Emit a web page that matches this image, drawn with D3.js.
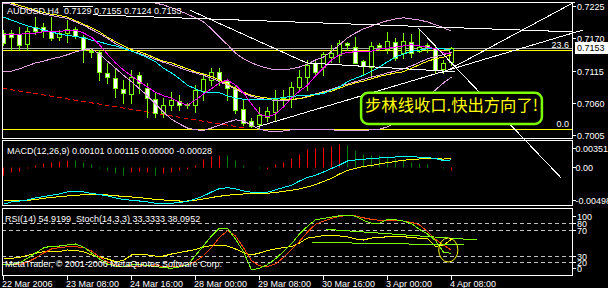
<!DOCTYPE html>
<html>
<head>
<meta charset="utf-8">
<script src="https://cdn.jsdelivr.net/npm/d3@7"></script>
<style>
body { margin: 0; background: #000; }
svg { display: block; }
text { font-family: "Liberation Sans", Arial, sans-serif; font-size: 9px; fill: #fff; white-space: pre; }
</style>
</head>
<body>
<svg id="chart" width="608" height="288"></svg>
<script>
// AUDUSD H4, 57 bars (22 Mar 2006 - 4 Apr 2006)
var openP  = [0.7179,0.7179,0.7177,0.7160,0.7189,0.7189,0.7182,0.7172,0.7179,0.7186,0.7172,0.7148,0.7147,0.7111,0.7102,0.7084,0.7075,0.7107,0.7085,0.7067,0.7043,0.7056,0.7063,0.7056,0.7056,0.7080,0.7099,0.7113,0.7097,0.7084,0.7049,0.7029,0.7024,0.7036,0.7044,0.7065,0.7067,0.7087,0.7104,0.7128,0.7121,0.7138,0.7142,0.7162,0.7155,0.7131,0.7121,0.7159,0.7152,0.7164,0.7145,0.7164,0.7148,0.7159,0.7153,0.7118,0.7129];
var highP  = [0.7184,0.7184,0.7189,0.7189,0.7206,0.7196,0.7206,0.7184,0.7201,0.7189,0.7176,0.7153,0.7150,0.7128,0.7118,0.7099,0.7116,0.7113,0.7094,0.7077,0.7068,0.7078,0.7073,0.7060,0.7090,0.7111,0.7119,0.7119,0.7099,0.7090,0.7065,0.7034,0.7053,0.7053,0.7082,0.7082,0.7095,0.7116,0.7133,0.7133,0.7147,0.7159,0.7167,0.7164,0.7172,0.7133,0.7164,0.7162,0.7181,0.7171,0.7179,0.7177,0.7184,0.7162,0.7157,0.7133,0.7155];
var lowP   = [0.7159,0.7150,0.7150,0.7150,0.7177,0.7172,0.7167,0.7167,0.7164,0.7171,0.7130,0.7138,0.7099,0.7094,0.7070,0.7060,0.7060,0.7077,0.7036,0.7036,0.7036,0.7048,0.7048,0.7051,0.7044,0.7065,0.7090,0.7090,0.7065,0.7043,0.7022,0.7019,0.7017,0.7029,0.7031,0.7056,0.7053,0.7082,0.7082,0.7107,0.7107,0.7130,0.7130,0.7150,0.7128,0.7107,0.7107,0.7150,0.7145,0.7133,0.7136,0.7138,0.7147,0.7147,0.7111,0.7111,0.7124];
var closeP = [0.7162,0.7172,0.7159,0.7182,0.7182,0.7182,0.7171,0.7179,0.7186,0.7174,0.7150,0.7147,0.7113,0.7104,0.7085,0.7077,0.7104,0.7094,0.7068,0.7043,0.7056,0.7065,0.7056,0.7058,0.7082,0.7101,0.7113,0.7099,0.7085,0.7048,0.7026,0.7020,0.7039,0.7046,0.7067,0.7068,0.7087,0.7104,0.7124,0.7113,0.7143,0.7145,0.7162,0.7159,0.7128,0.7123,0.7157,0.7155,0.7165,0.7136,0.7165,0.7145,0.7155,0.7155,0.7116,0.7128,0.7153];

// moving averages and bollinger bands on the price chart
var maYellow = [0.7234,0.7230,0.7226,0.7222,0.7218,0.7214,0.7211,0.7209,0.7206,0.7200,0.7194,0.7188,0.7181,0.7172,0.7164,0.7157,0.7151,0.7147,0.7142,0.7136,0.7131,0.7128,0.7123,0.7118,0.7113,0.7109,0.7105,0.7099,0.7092,0.7085,0.7078,0.7073,0.7070,0.7068,0.7067,0.7066,0.7066,0.7067,0.7070,0.7074,0.7078,0.7080,0.7085,0.7090,0.7094,0.7097,0.7101,0.7105,0.7108,0.7111,0.7113,0.7119,0.7125,0.7131,0.7135,0.7138,0.7142];
var maCyan = [0.7206,0.7201,0.7196,0.7191,0.7188,0.7184,0.7181,0.7177,0.7175,0.7173,0.7171,0.7167,0.7164,0.7160,0.7157,0.7153,0.7148,0.7143,0.7137,0.7130,0.7119,0.7111,0.7101,0.7090,0.7084,0.7078,0.7078,0.7077,0.7072,0.7068,0.7066,0.7065,0.7065,0.7066,0.7067,0.7069,0.7071,0.7072,0.7073,0.7074,0.7076,0.7082,0.7087,0.7096,0.7102,0.7107,0.7114,0.7121,0.7130,0.7138,0.7143,0.7148,0.7150,0.7152,0.7153,0.7152,0.7150];
var maMagenta = [0.7177,0.7177,0.7177,0.7178,0.7179,0.7181,0.7182,0.7182,0.7183,0.7184,0.7179,0.7172,0.7159,0.7143,0.7128,0.7116,0.7106,0.7096,0.7087,0.7078,0.7072,0.7068,0.7061,0.7056,0.7065,0.7075,0.7084,0.7094,0.7099,0.7090,0.7077,0.7058,0.7041,0.7036,0.7041,0.7053,0.7068,0.7080,0.7090,0.7106,0.7119,0.7133,0.7142,0.7146,0.7147,0.7147,0.7148,0.7152,0.7153,0.7155,0.7157,0.7159,0.7157,0.7155,0.7152,0.7145,0.7143];
var bandMid = [0.7230,0.7228,0.7223,0.7219,0.7216,0.7211,0.7209,0.7206,0.7204,0.7198,0.7192,0.7185,0.7178,0.7170,0.7161,0.7154,0.7148,0.7144,0.7139,0.7134,0.7129,0.7125,0.7120,0.7115,0.7111,0.7107,0.7102,0.7096,0.7090,0.7083,0.7076,0.7071,0.7067,0.7066,0.7064,0.7064,0.7065,0.7067,0.7071,0.7075,0.7079,0.7083,0.7088,0.7092,0.7096,0.7100,0.7104,0.7107,0.7111,0.7114,0.7118,0.7123,0.7129,0.7135,0.7139,0.7142,0.7146];
var bandUpper = [0.7338,0.7334,0.7329,0.7321,0.7312,0.7304,0.7295,0.7287,0.7280,0.7273,0.7266,0.7259,0.7254,0.7251,0.7247,0.7244,0.7240,0.7237,0.7234,0.7230,0.7227,0.7222,0.7217,0.7211,0.7205,0.7198,0.7186,0.7172,0.7159,0.7145,0.7135,0.7128,0.7123,0.7119,0.7116,0.7116,0.7118,0.7121,0.7126,0.7133,0.7138,0.7148,0.7159,0.7171,0.7179,0.7186,0.7191,0.7196,0.7200,0.7203,0.7205,0.7203,0.7201,0.7198,0.7193,0.7188,0.7182];
var bandLower = [0.7113,0.7114,0.7118,0.7123,0.7128,0.7131,0.7135,0.7138,0.7142,0.7147,0.7150,0.7152,0.7143,0.7131,0.7119,0.7107,0.7096,0.7084,0.7072,0.7058,0.7044,0.7032,0.7024,0.7017,0.7014,0.7013,0.7017,0.7022,0.7027,0.7031,0.7029,0.7022,0.7015,0.7012,0.7011,0.7012,0.7014,0.7014,0.7014,0.7014,0.7014,0.7014,0.7013,0.7012,0.7012,0.7013,0.7014,0.7015,0.7019,0.7026,0.7034,0.7044,0.7056,0.7070,0.7082,0.7094,0.7104];

// MACD(12,26,9)
var macdMain = [-0.00488,-0.00458,-0.00445,-0.00431,-0.00405,-0.00385,-0.00369,-0.00352,-0.00325,-0.00321,-0.00325,-0.00345,-0.00358,-0.00378,-0.00405,-0.00425,-0.00435,-0.00445,-0.00458,-0.00475,-0.00475,-0.00475,-0.00464,-0.00451,-0.00418,-0.00378,-0.00325,-0.00281,-0.00268,-0.00285,-0.00312,-0.00329,-0.00329,-0.00329,-0.00298,-0.00265,-0.00239,-0.00179,-0.00133,-0.00103,-0.00060,-0.00013,0.00033,0.00086,0.00100,0.00110,0.00117,0.00126,0.00130,0.00139,0.00143,0.00142,0.00137,0.00130,0.00119,0.00092,0.00101];
var macdSignal = [-0.00431,-0.00438,-0.00445,-0.00438,-0.00425,-0.00409,-0.00398,-0.00387,-0.00378,-0.00371,-0.00362,-0.00355,-0.00358,-0.00365,-0.00375,-0.00385,-0.00391,-0.00401,-0.00411,-0.00425,-0.00431,-0.00438,-0.00445,-0.00445,-0.00435,-0.00418,-0.00398,-0.00382,-0.00369,-0.00358,-0.00352,-0.00345,-0.00342,-0.00342,-0.00332,-0.00318,-0.00302,-0.00285,-0.00259,-0.00226,-0.00186,-0.00146,-0.00086,-0.00040,-0.00013,0.00013,0.00027,0.00046,0.00064,0.00080,0.00096,0.00106,0.00113,0.00113,0.00113,0.00112,0.00115];
var macdHist = [-0.00097,-0.00062,-0.00053,-0.00004,0.00035,0.00058,0.00075,0.00088,0.00097,0.00093,0.00066,0.00044,-0.00003,-0.00035,-0.00075,-0.00097,-0.00062,-0.00053,-0.00066,-0.00097,-0.00075,-0.00062,-0.00040,-0.00022,0.00031,0.00110,0.00155,0.00165,0.00160,0.00097,0.00035,0.00002,-0.00002,-0.00015,0.00044,0.00075,0.00124,0.00177,0.00243,0.00257,0.00274,0.00288,0.00310,0.00301,0.00230,0.00177,0.00168,0.00164,0.00155,0.00124,0.00110,0.00066,0.00053,0.00044,0.00008,-0.00012,-0.00028];
var macdHistUp = "rrrrrrrrrgggggggrrrgrrrrrrrrgggggrrrrrrrrrrgggggggggggggr".split("");

// RSI(14) and Stoch(14,3,3)
var rsi = [25.7,25.7,27.2,30,33.4,35.8,35.8,36,38.5,37.7,35.8,30.8,28.2,24.6,20.5,22.3,30.8,31.5,30.8,29.2,29.2,32.3,34.6,36.9,39.2,43,45.4,45.4,44.6,40,34.6,30.8,33.8,37.7,40,42.3,43.8,49.2,56.9,58.5,60.8,61.5,60,58.5,55.4,53.8,56.9,57.7,58.9,58.5,58.9,57.7,56.5,56.5,44,46,54.92];
var stochMain = [15.4,16.2,18.5,25.7,33.8,41.5,44.6,44.6,46.2,47.7,43,33.8,24.6,16.9,13.8,12.8,15.4,16.2,14.6,12.8,11.5,10.3,12.3,15.4,30,45,60,72,72,55,36,7.7,10.3,16,25,36,48,63,75,85,87,89,91,92.3,90.5,84,79.5,79.5,86,85,83,79,70,63,53,35,33.33];
var stochSignal = [15.4,15.4,16.2,20,26.2,33.8,40,42.3,43.5,43.5,42.3,36.9,27.7,20,15.4,12.8,12.8,13.8,14.6,15.4,12.8,12.8,13.8,15.4,21,30,42,58,68,60,42,22,14,13,17,27,39,52,66,78,83,87,90,92,91,88,85.5,84.3,84.6,84.6,83,81,77,67,55,46,38.1];

var timeLabels = ["22 Mar 2006","23 Mar 08:00","24 Mar 16:00","28 Mar 00:00","29 Mar 08:00","30 Mar 16:00","3 Apr 00:00","4 Apr 08:00"];
var timeLabelBars = [0, 8, 16, 24, 32, 40, 48, 56];
var priceTicks = [0.7225, 0.7170, 0.7115, 0.7060, 0.7005];
var bidPrice = 0.7153;
var macdTicks = [0.00351, 0, -0.00498];
var macdTickText = ["0.00351", "0.00", "-0.00498"];
var rsiTicks = [100, 80, 70, 30, 20, 0];
var rsiLevels = [80, 70, 30, 20];

// fibonacci retracement (0.0 / 23.6 visible)
var fibLow = 0.7015, fibHigh = 0.7587;
var fibLevels = [0, 23.6];

// drawn objects: [bar1, price1, bar2, price2]
var redTrend = [-0.2, 0.7085, 30.2, 0.7017];
var whiteTrends = [
    [7.4, 0.7225, 11.2, 0.7224],
    [11.2, 0.7210, 71.1, 0.7181],
    [23.3, 0.7218, 37.9, 0.7128],
    [37.9, 0.7128, 56.4, 0.7113],
    [31.7, 0.7019, 72.4, 0.7184],
    [54.9, 0.7111, 71.4, 0.7232],
    [51.8, 0.7188, 69.7, 0.6932]
];
var rsiTrends = [[38.6, 50.3, 57.6, 46.2], [40.3, 70.3, 59.2, 53.8]];
var rsiCircle = [55.6, 38.5, 1.2, 18.5];
var noteText = "步林线收口.快出方向了!";
var noteBox = [44.7, 0.7077, 67.3, 0.7024];

var headerText = "AUDUSD,H4  0.7129 0.7155 0.7124 0.7153";
var macdText = "MACD(12,26,9) 0.00101 0.00115 0.00000 -0.00028";
var rsiText = "RSI(14) 54.9199  Stoch(14,3,3) 33.3333 38.0952";
var copyText = "MetaTrader, © 2001-2006 MetaQuotes Software Corp.";

var svg = d3.select("#chart");
var left = 2, right = 572;
var panels = { main: [2, 138], macd: [140, 205], rsi: [208, 275] };

var x = d3.scaleLinear().domain([0, 56]).range([3.5, 451.5]);
var priceY = d3.scaleLinear().domain([0.7000, 0.72319]).range([138, 2]);
var macdY = d3.scaleLinear().domain([-0.00498, 0.00351]).range([205, 141]);
var rsiY = d3.scaleLinear().domain([0, 100]).range([275, 210]);

svg.append("rect").attr("width", 608).attr("height", 288).attr("fill", "#000");

var defs = svg.append("defs");
Object.keys(panels).forEach(function(name) {
    var p = panels[name];
    defs.append("clipPath").attr("id", "clip_" + name)
        .append("rect").attr("x", left + 1).attr("y", p[0] + 1)
        .attr("width", right - left - 1).attr("height", p[1] - p[0] - 1);
});

var mainG = svg.append("g").attr("clip-path", "url(#clip_main)");
var macdG = svg.append("g").attr("clip-path", "url(#clip_macd)");
var rsiG = svg.append("g").attr("clip-path", "url(#clip_rsi)");

function crisp(v) { return Math.round(v) + 0.5; }

function drawSeries(g, values, yScale, color) {
    var line = d3.line().x(function(d, i) { return x(i); }).y(function(d) { return yScale(d); });
    g.append("path").datum(values)
        .attr("d", line)
        .attr("fill", "none")
        .attr("stroke", color)
        .attr("stroke-width", 1)
        .attr("shape-rendering", "crispEdges");
}

function drawTrend(g, t, yScale, color, dash) {
    g.append("line")
        .attr("x1", x(t[0])).attr("y1", yScale(t[1]))
        .attr("x2", x(t[2])).attr("y2", yScale(t[3]))
        .attr("stroke", color).attr("stroke-width", 1)
        .attr("stroke-dasharray", dash || null)
        .attr("shape-rendering", "crispEdges");
}

// price chart: fib and bid lines first
fibLevels.forEach(function(lv) {
    var p = fibLow + (fibHigh - fibLow) * lv / 100;
    var yy = crisp(priceY(p));
    mainG.append("line").attr("x1", left).attr("x2", right).attr("y1", yy).attr("y2", yy)
        .attr("stroke", "#ffff00");
    svg.append("text").attr("x", right - 3).attr("y", yy - 3).attr("text-anchor", "end")
        .text(lv.toFixed(1));
});
var bidY = crisp(priceY(bidPrice));
mainG.append("line").attr("x1", left).attr("x2", right).attr("y1", bidY).attr("y2", bidY)
    .attr("stroke", "#a8a8a8");

drawTrend(mainG, redTrend, priceY, "#ff0000", "5,3");

function drawCandles() {
    closeP.forEach(function(c, i) {
        var o = openP[i];
        var cx = x(i);
        mainG.append("line").attr("x1", cx).attr("x2", cx)
            .attr("y1", Math.round(priceY(highP[i]))).attr("y2", Math.round(priceY(lowP[i])) + 1)
            .attr("stroke", "#7cfc00");
        var top = Math.round(priceY(Math.max(o, c)));
        var bot = Math.round(priceY(Math.min(o, c)));
        if (bot - top < 1) {
            mainG.append("line").attr("x1", cx - 2.5).attr("x2", cx + 2.5)
                .attr("y1", top + 0.5).attr("y2", top + 0.5).attr("stroke", "#7cfc00");
        } else {
            mainG.append("rect").attr("x", cx - 2).attr("y", top + 0.5)
                .attr("width", 4).attr("height", bot - top)
                .attr("fill", c > o ? "#000" : "#fff")
                .attr("stroke", "#7cfc00");
        }
    });
}
drawCandles();

drawSeries(mainG, bandUpper, priceY, "#dda0dd");
drawSeries(mainG, bandLower, priceY, "#dda0dd");
drawSeries(mainG, bandMid, priceY, "#dda0dd");
drawSeries(mainG, maYellow, priceY, "#ffff00");
drawSeries(mainG, maCyan, priceY, "#00ffff");
drawSeries(mainG, maMagenta, priceY, "#ff00ff");

// MACD panel
var zeroY = crisp(macdY(0));
macdHist.forEach(function(h, i) {
    macdG.append("line").attr("x1", x(i)).attr("x2", x(i))
        .attr("y1", zeroY).attr("y2", Math.round(macdY(h)) + 0.5)
        .attr("stroke", macdHistUp[i] == "r" ? "#ff0000" : "#008000");
});
drawSeries(macdG, macdSignal, macdY, "#ffff00");
drawSeries(macdG, macdMain, macdY, "#00ffff");

// RSI / Stoch panel
rsiLevels.forEach(function(lv) {
    var yy = crisp(rsiY(lv));
    rsiG.append("line").attr("x1", left).attr("x2", right).attr("y1", yy).attr("y2", yy)
        .attr("stroke", "#c0c0c0").attr("stroke-dasharray", "4,3");
});
drawSeries(rsiG, rsi, rsiY, "#ffff00");
drawSeries(rsiG, stochSignal, rsiY, "#ff4500");
drawSeries(rsiG, stochMain, rsiY, "#7cfc00");
rsiTrends.forEach(function(t) { drawTrend(rsiG, t, rsiY, "#7cfc00"); });
rsiG.append("ellipse")
    .attr("cx", x(rsiCircle[0])).attr("cy", rsiY(rsiCircle[1]))
    .attr("rx", x(rsiCircle[0] + rsiCircle[2]) - x(rsiCircle[0]))
    .attr("ry", rsiY(rsiCircle[1] - rsiCircle[3]) - rsiY(rsiCircle[1]))
    .attr("fill", "none").attr("stroke", "#ffff00");

// panel frames
Object.keys(panels).forEach(function(name) {
    var p = panels[name];
    svg.append("rect").attr("x", left + 0.5).attr("y", p[0] + 0.5)
        .attr("width", right - left).attr("height", p[1] - p[0])
        .attr("fill", "none").attr("stroke", "#fff");
});

// hand drawn white lines go over the frames
whiteTrends.forEach(function(t) { drawTrend(svg, t, priceY, "#fff"); });

// note box
var bx1 = x(noteBox[0]), bx2 = x(noteBox[2]);
var by1 = priceY(noteBox[1]), by2 = priceY(noteBox[3]);
svg.append("rect").attr("x", bx1).attr("y", by1).attr("width", bx2 - bx1).attr("height", by2 - by1)
    .attr("rx", 7).attr("fill", "#000").attr("stroke", "#7cfc00").attr("stroke-width", 2.5);
svg.append("text").attr("x", (bx1 + bx2) / 2).attr("y", by2 - 13).attr("text-anchor", "middle")
    .attr("textLength", 173).attr("lengthAdjust", "spacingAndGlyphs")
    .style("font-family", "'Noto Sans CJK SC'").style("font-size", "16px").style("fill", "#ffff00")
    .text(noteText);

// labels
svg.append("text").attr("x", 7).attr("y", 14).text(headerText);
svg.append("text").attr("x", 7).attr("y", 154).text(macdText);
svg.append("text").attr("x", 5).attr("y", 222).text(rsiText);
svg.append("text").attr("x", 5).attr("y", 267).text(copyText);

// price axis
priceTicks.forEach(function(p) {
    var yy = crisp(priceY(p));
    svg.append("line").attr("x1", right).attr("x2", right + 4).attr("y1", yy).attr("y2", yy).attr("stroke", "#fff");
    svg.append("text").attr("x", 577).attr("y", yy).attr("dy", "0.35em").text(p.toFixed(4));
});
var bidBoxY = Math.round(priceY(bidPrice));
svg.append("rect").attr("x", 575).attr("y", bidBoxY - 6).attr("width", 33).attr("height", 12).attr("fill", "#fff");
svg.append("text").attr("x", 577).attr("y", bidBoxY).attr("dy", "0.35em").style("fill", "#000").text(bidPrice.toFixed(4));

macdTicks.forEach(function(v, i) {
    var yy = crisp(Math.max(148, Math.min(200, macdY(v))));
    svg.append("line").attr("x1", right).attr("x2", right + 4).attr("y1", yy).attr("y2", yy).attr("stroke", "#fff");
    svg.append("text").attr("x", 575.5).attr("y", yy).attr("dy", "0.35em").text(macdTickText[i]);
});
rsiTicks.forEach(function(v) {
    var yy = crisp(Math.max(216, Math.min(268, rsiY(v))));
    svg.append("line").attr("x1", right).attr("x2", right + 4).attr("y1", yy).attr("y2", yy).attr("stroke", "#fff");
    svg.append("text").attr("x", 577).attr("y", yy).attr("dy", "0.35em").text(v);
});

// time axis
timeLabels.forEach(function(t, i) {
    var xx = x(timeLabelBars[i]);
    svg.append("line").attr("x1", xx).attr("x2", xx).attr("y1", 276).attr("y2", 280).attr("stroke", "#fff");
    svg.append("text").attr("x", xx - 1.5).attr("y", 287).text(t);
});
</script>
</body>
</html>
